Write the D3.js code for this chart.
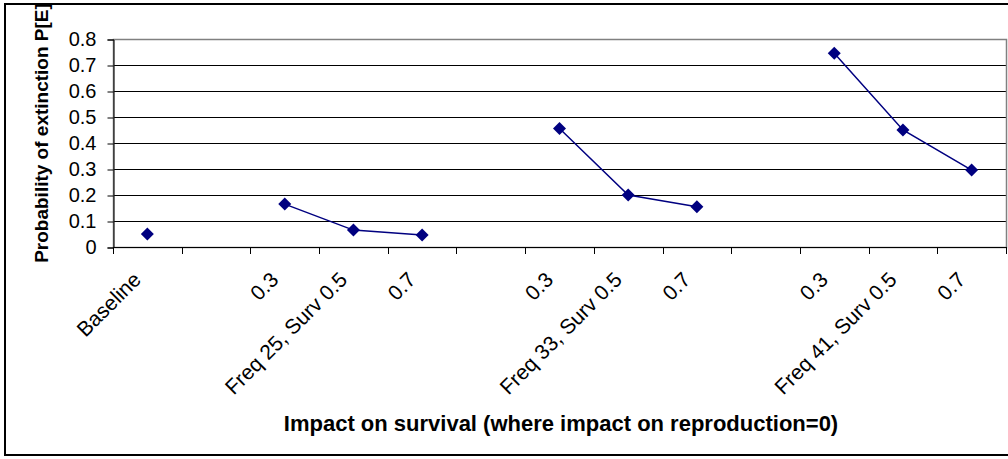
<!DOCTYPE html>
<html>
<head>
<meta charset="utf-8">
<script src="https://cdn.jsdelivr.net/npm/d3@7"></script>
<style>
  html, body { margin: 0; padding: 0; background: #fff; }
  svg { display: block; font-family: "Liberation Sans", Arial, sans-serif; }
</style>
</head>
<body>
<svg id="chart" width="1008" height="459"></svg>
<script>
// Category slots along the x axis (empty strings are spacer slots between groups)
const categories = ["Baseline", "", "0.3", "Freq 25, Surv 0.5", "0.7", "", "0.3", "Freq 33, Surv 0.5", "0.7", "", "0.3", "Freq 41, Surv 0.5", "0.7"];
// Probability of extinction per slot (null = no point)
const extinction = [0.05, null, 0.165, 0.065, 0.046, null, 0.456, 0.2, 0.155, null, 0.745, 0.45, 0.296];
const yTicks = [0, 0.1, 0.2, 0.3, 0.4, 0.5, 0.6, 0.7, 0.8];
const yTickLabels = ["0", "0.1", "0.2", "0.3", "0.4", "0.5", "0.6", "0.7", "0.8"];
const yTitle = "Probability of extinction P[E]";
const xTitle = "Impact on survival (where impact on reproduction=0)";

const svg = d3.select("#chart");
const plot = { left: 113, right: 1006, top: 39, bottom: 247 };
const navy = "#000080";

const x = d3.scaleBand().domain(d3.range(categories.length)).range([plot.left, plot.right]).padding(0);
const y = d3.scaleLinear().domain([0, 0.8]).range([plot.bottom, plot.top]);

// Outer chart frame
svg.append("rect")
  .attr("x", 5).attr("y", 4).attr("width", 1010).attr("height", 451)
  .attr("fill", "#fff").attr("stroke", "#000").attr("stroke-width", 2);

// Horizontal gridlines
svg.append("g").selectAll("line")
  .data(yTicks.filter(t => t > 0 && t < 0.8))
  .join("line")
  .attr("x1", plot.left).attr("x2", plot.right)
  .attr("y1", d => Math.round(y(d)) + 0.5).attr("y2", d => Math.round(y(d)) + 0.5)
  .attr("stroke", "#000").attr("stroke-width", 1);

// Plot area border
svg.append("rect")
  .attr("x", plot.left + 0.5).attr("y", plot.top + 0.5)
  .attr("width", plot.right - plot.left).attr("height", plot.bottom - plot.top)
  .attr("fill", "none").attr("stroke", "#808080").attr("stroke-width", 1.5);

// Y axis
const yAxis = d3.axisLeft(y)
  .tickValues(yTicks)
  .tickFormat((d, i) => yTickLabels[i])
  .tickSize(6).tickPadding(11);
const yG = svg.append("g").attr("transform", `translate(${plot.left + 0.5},0.5)`).call(yAxis);
yG.select(".domain").attr("stroke", "#000");
yG.selectAll(".tick line").attr("stroke", "#000");
yG.selectAll(".tick text")
  .attr("font-size", 20).attr("fill", "#000")
  .attr("font-family", "'Liberation Sans', Arial, sans-serif");

// X axis line and category boundary ticks
const xg = svg.append("g");
xg.append("line")
  .attr("x1", plot.left).attr("x2", plot.right)
  .attr("y1", plot.bottom + 0.5).attr("y2", plot.bottom + 0.5)
  .attr("stroke", "#000").attr("stroke-width", 1);
const boundaries = d3.range(categories.length + 1).map(i => i < categories.length ? x(i) : x(i - 1) + x.bandwidth());
xg.selectAll("line.tick")
  .data(boundaries)
  .join("line")
  .attr("class", "tick")
  .attr("x1", d => Math.round(d) + 0.5).attr("x2", d => Math.round(d) + 0.5)
  .attr("y1", plot.bottom).attr("y2", plot.bottom + 7)
  .attr("stroke", "#000").attr("stroke-width", 1);

// Rotated category labels
xg.selectAll("text.cat")
  .data(categories.map((c, i) => ({ c, i })).filter(d => d.c !== ""))
  .join("text")
  .attr("class", "cat")
  .attr("transform", d => `translate(${x(d.i) + x.bandwidth() / 2 - 5},${plot.bottom + 34}) rotate(-45)`)
  .attr("text-anchor", "end")
  .attr("font-size", 21)
  .attr("fill", "#000")
  .text(d => d.c);

// Series line (broken at spacer slots)
const line = d3.line()
  .defined(d => d.v != null)
  .x(d => x(d.i) + x.bandwidth() / 2)
  .y(d => y(d.v));
const pts = extinction.map((v, i) => ({ v, i }));
svg.append("path")
  .datum(pts)
  .attr("d", line)
  .attr("fill", "none")
  .attr("stroke", navy)
  .attr("stroke-width", 1.5);

// Diamond markers
svg.append("g").selectAll("path")
  .data(pts.filter(d => d.v != null))
  .join("path")
  .attr("transform", d => `translate(${x(d.i) + x.bandwidth() / 2},${y(d.v)})`)
  .attr("d", "M0,-6.5L6.5,0L0,6.5L-6.5,0Z")
  .attr("fill", navy);

// Axis titles
svg.append("text")
  .attr("transform", `translate(48,133) rotate(-90)`)
  .attr("text-anchor", "middle")
  .attr("font-size", 19).attr("font-weight", "bold")
  .text(yTitle);

svg.append("text")
  .attr("x", 561).attr("y", 431)
  .attr("text-anchor", "middle")
  .attr("font-size", 22).attr("font-weight", "bold")
  .text(xTitle);
</script>
</body>
</html>
